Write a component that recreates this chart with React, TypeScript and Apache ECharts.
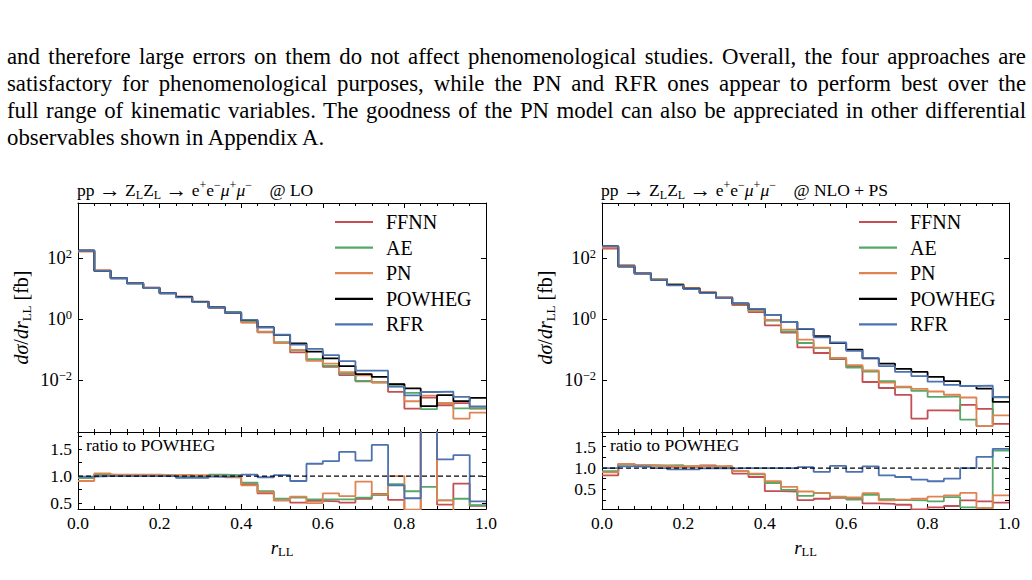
import React, { useEffect, useRef } from "react";
import * as echarts from "echarts";

const SERIF = '"Liberation Serif", "Times New Roman", serif';

const paragraphLines = [
  "and therefore large errors on them do not affect phenomenological studies. Overall, the four approaches are",
  "satisfactory for phenomenological purposes, while the PN and RFR ones appear to perform best over the",
  "full range of kinematic variables. The goodness of the PN model can also be appreciated in other differential",
  "observables shown in Appendix A.",
];

// bin edges of r_LL (25 bins)
const binEdges = [
  0.0, 0.04, 0.08, 0.12, 0.16, 0.2, 0.24, 0.28, 0.32, 0.36, 0.4, 0.44, 0.48,
  0.52, 0.56, 0.6, 0.64, 0.68, 0.72, 0.76, 0.8, 0.84, 0.88, 0.92, 0.96, 1.0,
];

const modelNames = ["FFNN", "AE", "PN", "POWHEG", "RFR"];
const modelColors: Record<string, string> = {
  FFNN: "#c44e52",
  AE: "#55a868",
  PN: "#dd8452",
  POWHEG: "#000000",
  RFR: "#4c72b0",
};

// ---- LO panel: POWHEG dσ/dr_LL [fb] ----
const powhegLO = [
  178, 38, 21.9, 14.8, 10.5, 7.08, 5.37, 3.72, 2.45, 1.66, 0.933, 0.55, 0.309,
  0.162, 0.087, 0.0525, 0.0295, 0.0162, 0.0132, 0.0076, 0.0055, 0.00145, 0.0033,
  0.0021, 0.0027,
];
// ratios to POWHEG (LO)
const ffnnRatioLO = [
  0.97, 1.03, 1.02, 1.02, 1.02, 1.01, 1.02, 1.0, 0.99, 0.98, 0.85, 0.68, 0.55,
  0.51, 0.54, 0.53, 0.51, 0.58, 0.67, 0.56, 0.22, 1.9, 0.47, 0.86, 0.45,
];
const aeRatioLO = [
  0.97, 1.02, 1.02, 1.01, 1.01, 1.02, 1.0, 1.01, 1.03, 1.02, 0.88, 0.72, 0.58,
  0.6, 0.57, 0.57, 0.57, 0.6, 0.65, 0.85, 0.72, 0.8, 0.55, 0.58, 0.46,
];
const pnRatioLO = [
  0.91, 1.05, 1.03, 1.03, 1.03, 1.02, 1.02, 1.02, 1.0, 0.98, 0.83, 0.7, 0.55,
  0.62, 0.5, 0.68, 0.63, 0.9, 0.66, 1.0, 0.38, 2.2, 0.55, 0.27, 0.33,
];
const rfrRatioLO = [
  0.99, 1.0, 1.0, 1.0, 1.0, 1.0, 0.97, 0.97, 0.99, 1.0, 1.03, 0.98, 1.02, 0.91,
  1.23, 1.28, 1.45, 1.29, 1.58, 0.83, 0.59, 2.9, 1.31, 1.39, 0.53,
];

// ---- NLO+PS panel ----
const powhegNLO = [
  245, 52.5, 30.9, 19.5, 13.2, 10.0, 7.24, 5.01, 3.31, 2.19, 1.38, 0.813, 0.479,
  0.282, 0.166, 0.102, 0.0525, 0.0355, 0.024, 0.019, 0.0132, 0.0095, 0.0066,
  0.0054, 0.002,
];
const ffnnRatioNLO = [
  0.83, 1.1, 1.06, 1.05, 1.03, 1.03, 1.06, 1.03, 0.87, 0.79, 0.46, 0.45, 0.25,
  0.28, 0.3, 0.28, 0.17, 0.16, 0.14, 0.03, 0.08, 0.11, 0.24, 0.22, 0.19,
];
const aeRatioNLO = [
  0.93, 1.08, 1.06, 1.06, 1.07, 1.04, 1.03, 1.02, 0.93, 0.85, 0.65, 0.49, 0.35,
  0.41, 0.32, 0.26, 0.37, 0.27, 0.25, 0.24, 0.22, 0.32, 0.08, 0.06, 1.41,
];
const pnRatioNLO = [
  0.9, 1.1, 1.06, 1.05, 1.04, 1.05, 1.04, 1.05, 0.93, 0.87, 0.69, 0.56, 0.45,
  0.42, 0.33, 0.31, 0.41, 0.24, 0.26, 0.28, 0.33, 0.36, 0.42, 0.06, 0.36,
];
const rfrRatioNLO = [
  1.0, 1.04, 1.03, 1.0, 0.97, 0.97, 0.99, 0.99, 1.0, 1.0, 1.0, 1.0, 1.02, 0.91,
  1.05, 0.91, 1.04, 0.83, 0.79, 0.73, 0.69, 0.75, 1.0, 1.26, 1.45,
];

const logTicks = [0.01, 1, 100];
const ratioLabelsTicks = [0.5, 1.0, 1.5];
const ratioTicksLO = [0.5, 0.75, 1.0, 1.25, 1.5, 1.75];
const ratioTicksNLO = [0.25, 0.5, 0.75, 1.0, 1.25, 1.5, 1.75];

const stepData = (vals: number[]) =>
  binEdges.map((x, i) => [x, vals[Math.min(i, vals.length - 1)]]);

const makeRich = (fs: number, sfs: number, lh: number) => ({
  n: { fontFamily: SERIF, fontSize: fs, fontWeight: "normal", lineHeight: lh, verticalAlign: "middle", color: "#000" },
  a: { fontFamily: SERIF, fontSize: fs * 1.25, fontWeight: "normal", lineHeight: lh, verticalAlign: "middle", color: "#000" },
  i: { fontFamily: SERIF, fontSize: fs, fontWeight: "normal", lineHeight: lh, fontStyle: "italic", verticalAlign: "middle", color: "#000" },
  sb: { fontFamily: SERIF, fontSize: sfs, fontWeight: "normal", lineHeight: sfs, verticalAlign: "bottom", color: "#000" },
  sp: { fontFamily: SERIF, fontSize: sfs, fontWeight: "normal", lineHeight: sfs, verticalAlign: "top", color: "#000" },
});

function buildPanel(p: number, powheg: number[], ratios: Record<string, number[]>) {
  const values: Record<string, number[]> = {};
  modelNames.forEach((m) => {
    values[m] = m === "POWHEG" ? powheg : powheg.map((v, i) => v * ratios[m][i]);
  });
  const series: any[] = [];
  modelNames.forEach((m, k) => {
    series.push({
      name: m,
      type: "line",
      xAxisIndex: p * 4,
      yAxisIndex: p * 4,
      data: stepData(values[m]),
      step: "end",
      symbol: "none",
      silent: true,
      color: modelColors[m],
      itemStyle: { color: modelColors[m] },
      lineStyle: { color: modelColors[m], width: 1.8 },
      z: 2 + k,
    });
  });
  const ratioOrder = ["FFNN", "AE", "PN", "RFR", "POWHEG"];
  ratioOrder.forEach((m, k) => {
    const rv = values[m].map((v, i) => v / powheg[i]);
    series.push({
      name: m,
      type: "line",
      xAxisIndex: p * 4 + 2,
      yAxisIndex: p * 4 + 2,
      data: stepData(rv),
      step: "end",
      symbol: "none",
      silent: true,
      clip: true,
      color: modelColors[m],
      itemStyle: { color: modelColors[m] },
      lineStyle:
        m === "POWHEG"
          ? { color: "#000", width: 1.3, type: [5, 3] }
          : { color: modelColors[m], width: 1.8 },
      z: 2 + k,
    });
  });
  return series;
}

const axisLineStyle = { show: true, onZero: false, lineStyle: { color: "#000", width: 1 } };

function xAxisDef(grid: number, position: string, labels: boolean, withName: boolean) {
  return {
    type: "value",
    gridIndex: grid,
    position,
    min: 0,
    max: 1,
    interval: 0.2,
    axisLine: axisLineStyle,
    axisTick: { show: true, inside: true, length: 5, lineStyle: { color: "#000", width: 1 } },
    minorTick: { show: true, splitNumber: 5, length: 3, lineStyle: { color: "#000", width: 1 } },
    splitLine: { show: false },
    minorSplitLine: { show: false },
    axisLabel: {
      show: labels,
      margin: 5,
      color: "#000",
      fontFamily: SERIF,
      fontSize: 17.5,
      formatter: (v: number) => v.toFixed(1),
    },
    name: withName ? "{i|r}{sb|LL}" : "",
    nameLocation: "middle",
    nameGap: 27,
    nameMoveOverlap: false,
    nameTextStyle: { fontFamily: SERIF, fontSize: 19, color: "#000", rich: makeRich(19, 12.5, 22) },
  };
}

function logYAxisDef(grid: number, position: string, labels: boolean, withName: boolean) {
  return {
    type: "log",
    logBase: 10,
    gridIndex: grid,
    position,
    min: 2.07e-4,
    max: 6.3e3,
    axisLine: axisLineStyle,
    axisTick: { show: true, inside: true, length: 5, customValues: logTicks, lineStyle: { color: "#000", width: 1 } },
    splitLine: { show: false },
    axisLabel: {
      show: labels,
      customValues: logTicks,
      margin: 6,
      color: "#000",
      formatter: (v: number) => {
        const e = Math.round(Math.log10(v));
        return "{b|10}{s|" + (e < 0 ? "\u2212" + -e : "" + e) + "}";
      },
      rich: {
        b: { fontFamily: SERIF, fontSize: 18.5, lineHeight: 22, verticalAlign: "middle", color: "#000" },
        s: { fontFamily: SERIF, fontSize: 12.5, lineHeight: 11, verticalAlign: "top", color: "#000" },
      },
    },
    name: withName ? "{i|d\u03c3}{n|/}{i|dr}{sb|LL}{n| [fb]}" : "",
    nameLocation: "middle",
    nameGap: 45,
    nameRotate: 90,
    nameMoveOverlap: false,
    nameTextStyle: { fontFamily: SERIF, fontSize: 20, color: "#000", rich: makeRich(20, 13, 24) },
  };
}

function ratioYAxisDef(grid: number, position: string, labels: boolean, min: number, max: number, ticks: number[]) {
  return {
    type: "value",
    gridIndex: grid,
    position,
    min,
    max,
    axisLine: axisLineStyle,
    axisTick: { show: true, inside: true, length: 4, customValues: ticks, lineStyle: { color: "#000", width: 1 } },
    splitLine: { show: false },
    axisLabel: {
      show: labels,
      customValues: ratioLabelsTicks,
      margin: 6,
      color: "#000",
      fontFamily: SERIF,
      fontSize: 17.5,
      formatter: (v: number) => v.toFixed(1),
    },
  };
}

const titleHead =
  "{n|pp }{a|\u2192}{n| Z}{sb|L}{n|Z}{sb|L}{n| }{a|\u2192}{n| e}{sp|+}{n|e}{sp|\u2212}{i|\u03bc}{sp|+}{i|\u03bc}{sp|\u2212}";
const titleLO = titleHead + "{n|\u2002\u2002@ LO}";
const titleNLO = titleHead + "{n|\u2002\u2002@ NLO + PS}";

function makeOption() {
  const grids = [
    { left: 78, top: 203, width: 408, height: 229 },
    { left: 78, top: 432, width: 408, height: 77 },
    { left: 602, top: 203, width: 407, height: 229 },
    { left: 602, top: 432, width: 407, height: 77 },
  ].map((g) => ({ ...g, containLabel: false, outerBoundsMode: "none", show: false }));

  const xAxis = [
    xAxisDef(0, "bottom", false, false),
    xAxisDef(0, "top", false, false),
    xAxisDef(1, "bottom", true, true),
    xAxisDef(1, "top", false, false),
    xAxisDef(2, "bottom", false, false),
    xAxisDef(2, "top", false, false),
    xAxisDef(3, "bottom", true, true),
    xAxisDef(3, "top", false, false),
  ];
  const yAxis = [
    logYAxisDef(0, "left", true, true),
    logYAxisDef(0, "right", false, false),
    ratioYAxisDef(1, "left", true, 0.39, 1.82, ratioTicksLO),
    ratioYAxisDef(1, "right", false, 0.39, 1.82, ratioTicksLO),
    logYAxisDef(2, "left", true, true),
    logYAxisDef(2, "right", false, false),
    ratioYAxisDef(3, "left", true, 0.04, 1.845, ratioTicksNLO),
    ratioYAxisDef(3, "right", false, 0.04, 1.845, ratioTicksNLO),
  ];

  const series = [
    ...buildPanel(0, powhegLO, { FFNN: ffnnRatioLO, AE: aeRatioLO, PN: pnRatioLO, RFR: rfrRatioLO }),
    ...buildPanel(1, powhegNLO, { FFNN: ffnnRatioNLO, AE: aeRatioNLO, PN: pnRatioNLO, RFR: rfrRatioNLO }),
  ];

  const legendBase = {
    data: modelNames,
    orient: "vertical",
    top: 212,
    padding: 0,
    itemGap: 5.6,
    itemWidth: 38,
    itemHeight: 2.2,
    icon: "rect",
    selectedMode: false,
    textStyle: { fontFamily: SERIF, fontSize: 20, fontWeight: "normal", lineHeight: 20, color: "#000", padding: [0, 0, 0, 8] },
  };

  const titleStyle = { fontFamily: SERIF, fontSize: 17.5, fontWeight: "normal", color: "#000", rich: makeRich(17.5, 12, 22) };

  return {
    animation: false,
    backgroundColor: "transparent",
    title: [
      { left: 77, top: 179, padding: 0, text: titleLO, textStyle: titleStyle },
      { left: 601, top: 179, padding: 0, text: titleNLO, textStyle: titleStyle },
    ],
    legend: [
      { ...legendBase, left: 335 },
      { ...legendBase, left: 859 },
    ],
    grid: grids,
    xAxis,
    yAxis,
    series,
    graphic: [
      { type: "text", left: 86, top: 436, silent: true, style: { text: "ratio to POWHEG", font: '17.5px "Liberation Serif"', fill: "#000" } },
      { type: "text", left: 610, top: 436, silent: true, style: { text: "ratio to POWHEG", font: '17.5px "Liberation Serif"', fill: "#000" } },
    ],
  };
}

export default function App() {
  const ref = useRef<HTMLDivElement>(null);
  useEffect(() => {
    if (!ref.current) return;
    const chart = echarts.init(ref.current, null, { renderer: "svg" });
    chart.setOption(makeOption() as any);
    return () => chart.dispose();
  }, []);
  return (
    <div style={{ position: "absolute", left: 0, top: 0, width: 1032, height: 580, background: "#fff", overflow: "hidden" }}>
      <div ref={ref} style={{ position: "absolute", left: 0, top: 0, width: 1032, height: 580 }} />
      <div
        style={{
          position: "absolute",
          left: 7,
          top: 43,
          width: 1019,
          fontFamily: SERIF,
          fontSize: 22.8,
          lineHeight: "27px",
          color: "#000",
        }}
      >
        {paragraphLines.map((line, i) => {
          const last = i === paragraphLines.length - 1;
          return (
            <div
              key={i}
              style={{ textAlign: last ? "left" : "justify", textAlignLast: last ? "left" : "justify" } as any}
            >
              {line}
            </div>
          );
        })}
      </div>
    </div>
  );
}
